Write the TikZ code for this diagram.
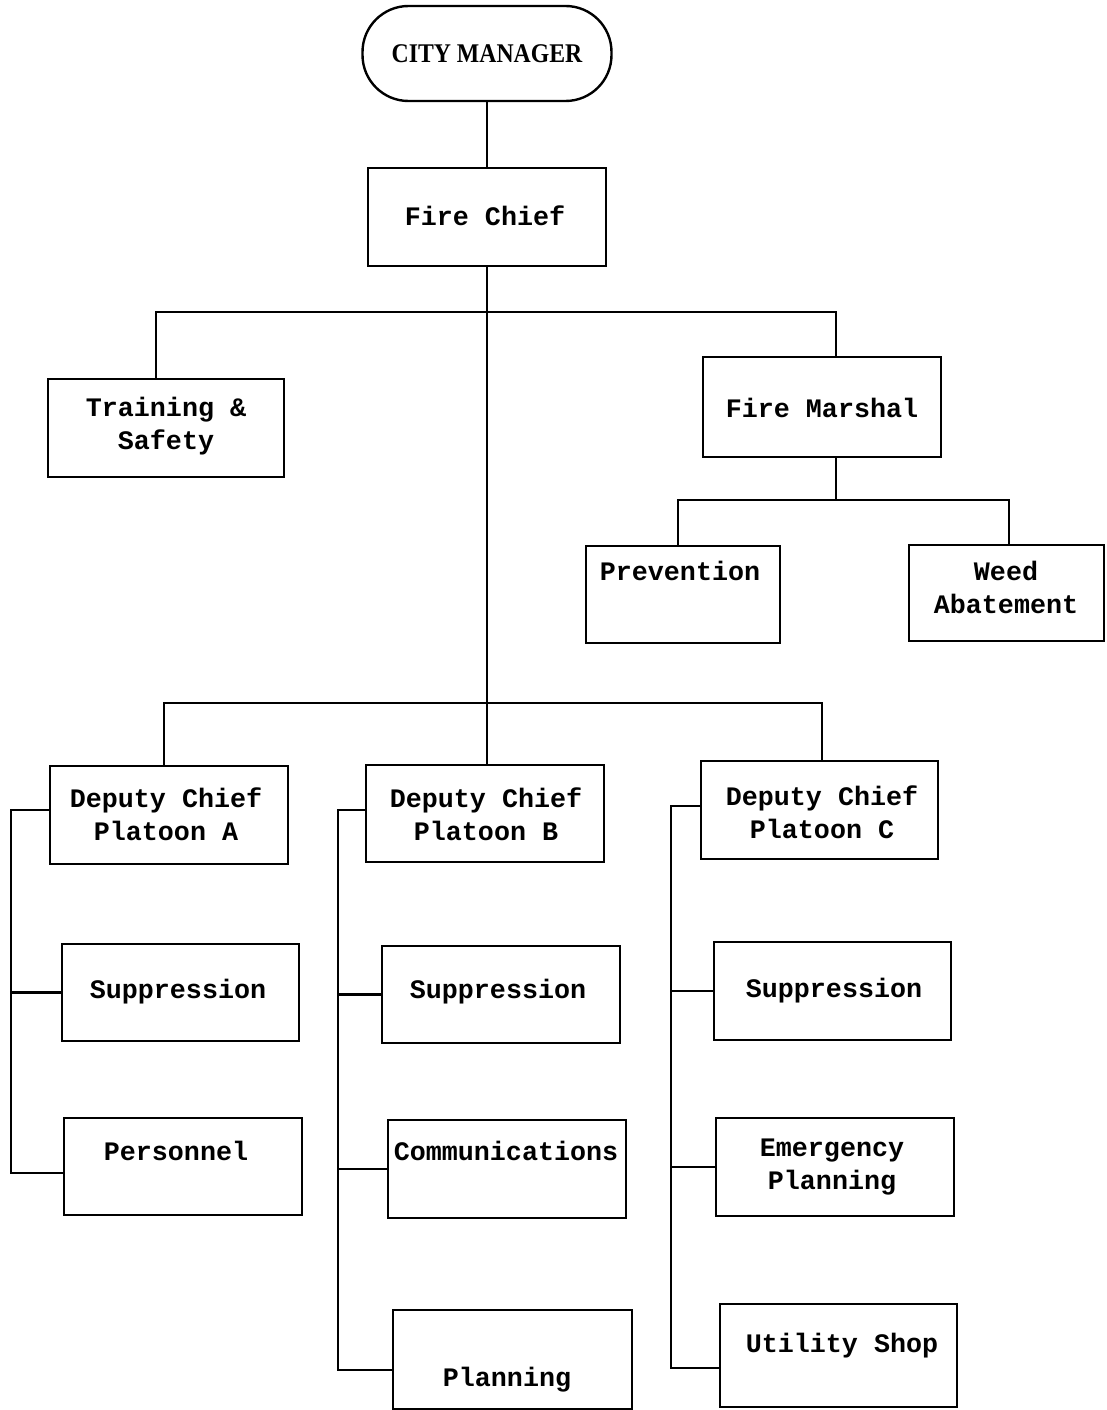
\documentclass[tikz,border=0pt]{standalone}
\usepackage{fontspec}
\newfontfamily\monofont{Liberation Mono}
\newfontfamily\capfont{Liberation Serif}[FakeStretch=0.88]
\begin{document}
\begin{tikzpicture}[x=1pt,y=-1pt,
  box/.style={draw, line width=2.4pt, rectangle, inner sep=0pt, outer sep=0pt, anchor=north west},
  txt/.style={font=\monofont\bfseries\fontsize{26.7}{33}\selectfont, align=center, inner sep=0pt},
  conn/.style={line width=2.2pt}]
\useasboundingbox[fill=white] (0,0) rectangle (1106,1410);
% City manager
\node[draw, line width=2.4pt, rounded corners=46pt, minimum width=249pt, minimum height=95pt, inner sep=0pt, outer sep=0pt,
  font=\capfont\bfseries\fontsize{27}{30}\selectfont] (cm) at (487,53.5) {CITY MANAGER};
% boxes
\node[box, minimum width=238pt, minimum height=98pt] (fc) at (368,168) {};
\node[box, minimum width=236pt, minimum height=98pt] (ts) at (48,379) {};
\node[box, minimum width=238pt, minimum height=100pt] (fm) at (703,357) {};
\node[box, minimum width=194pt, minimum height=97pt] (pr) at (586,546) {};
\node[box, minimum width=195pt, minimum height=96pt] (wa) at (909,545) {};
\node[box, minimum width=238pt, minimum height=98pt] (dA) at (50,766) {};
\node[box, minimum width=238pt, minimum height=97pt] (dB) at (366,765) {};
\node[box, minimum width=237pt, minimum height=98pt] (dC) at (701,761) {};
\node[box, minimum width=237pt, minimum height=97pt] (sA) at (62,944) {};
\node[box, minimum width=238pt, minimum height=97pt] (pe) at (64,1118) {};
\node[box, minimum width=238pt, minimum height=97pt] (sB) at (382,946) {};
\node[box, minimum width=238pt, minimum height=98pt] (co) at (388,1120) {};
\node[box, minimum width=239pt, minimum height=99pt] (pl) at (393,1310) {};
\node[box, minimum width=237pt, minimum height=98pt] (sC) at (714,942) {};
\node[box, minimum width=238pt, minimum height=98pt] (ep) at (716,1118) {};
\node[box, minimum width=237pt, minimum height=103pt] (us) at (720,1304) {};
% texts
\node[txt] (tfc) at (485,216) {Fire Chief};
\node[txt] (tts) at (166,426) {Training \&\\Safety};
\node[txt] (tfm) at (822,408) {Fire Marshal};
\node[txt] (tpr) at (680,571) {Prevention};
\node[txt] (twa) at (1006,587) {Weed\\Abatement};
\node[txt] (tdA) at (166,814) {Deputy Chief\\Platoon A};
\node[txt] (tdB) at (486,814) {Deputy Chief\\Platoon B};
\node[txt] (tdC) at (822,812) {Deputy Chief\\Platoon C};
\node[txt] (tsA) at (178,992) {Suppression};
\node[txt] (tpe) at (176,1151) {Personnel};
\node[txt] (tsB) at (498,992) {Suppression};
\node[txt] (tco) at (506,1151) {Communications};
\node[txt] (tpl) at (507,1380) {Planning};
\node[txt] (tsC) at (834,991) {Suppression};
\node[txt] (tep) at (832,1167) {Emergency\\Planning};
\node[txt] (tus) at (842,1346) {Utility Shop};
% junctions
\coordinate (j1) at (487,312);
\coordinate (j2) at (487,703);
\coordinate (j3) at (836,500);
\coordinate (bA) at (11,1173);
\coordinate (bB) at (338,1370);
\coordinate (bC) at (671,1368);
% connectors
\draw[conn] (cm.south) -- (cm.south |- fc.north);
\draw[conn] (fc.south) -- (fc.south |- dB.north);
\draw[conn] (ts.north -| 156,0) |- (j1) -| (fm.north -| j3);
\draw[conn] (fm.south -| j3) -- (j3);
\draw[conn] (pr.north -| 678,0) |- (j3) -| (wa.north -| 1009,0);
\draw[conn] (dA.north -| 164,0) |- (j2) -| (dC.north -| 822,0);
\draw[conn] (dA.west |- 0,810) -| (bA) -- (bA -| pe.west);
\draw[conn] (bA |- sA.west) -- (sA.west);
\draw[conn] (dB.west |- 0,810) -| (bB) -- (bB -| pl.west);
\draw[conn] (bB |- sB.west) -- (sB.west);
\draw[conn] (bB |- co.west) -- (co.west);
\draw[conn] (dC.west |- 0,806) -| (bC) -- (bC -| us.west);
\draw[conn] (bC |- sC.west) -- (sC.west);
\draw[conn] (bC |- ep.west) -- (ep.west);
\end{tikzpicture}
\end{document}
